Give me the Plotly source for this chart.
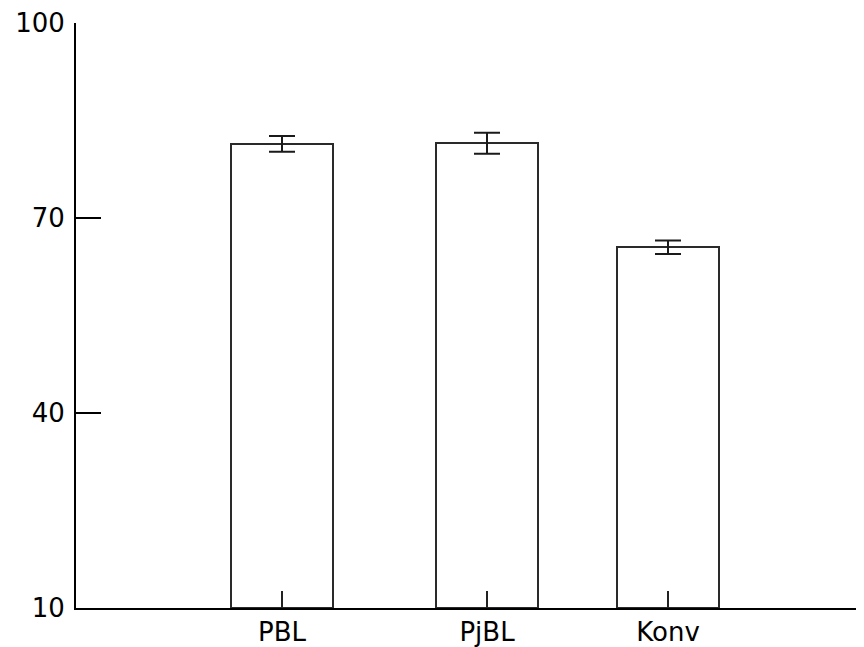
import plotly.graph_objects as go

categories = ["PBL", "PjBL", "Konv"]
values = [81.4, 81.5, 65.5]
errors = [1.2, 1.6, 1.05]
y_ticks = [10, 40, 70, 100]

# layout: horizontal positions of bars (pixel-like units along x axis)
x_pos = [206, 411, 592]
bar_width = 102

fig = go.Figure()
fig.add_trace(go.Bar(
    x=x_pos,
    y=[v - 10 for v in values],
    base=10,
    width=bar_width,
    marker=dict(color="white", line=dict(color="#2a2a2a", width=2)),
    error_y=dict(type="data", array=errors, color="#1a1a1a", thickness=2, width=13),
    showlegend=False,
))

fig.update_layout(
    width=856, height=639,
    margin=dict(l=68, r=0, t=15, b=39),
    plot_bgcolor="white", paper_bgcolor="white",
    font=dict(family="DejaVu Sans, Arial, sans-serif", size=26, color="black"),
    bargap=0,
)
fig.update_xaxes(
    range=[0, 788], tickmode="array", tickvals=x_pos, ticktext=categories,
    showline=True, linecolor="black", linewidth=2,
    ticks="inside", ticklen=17, tickwidth=2, tickcolor="#222222",
    showgrid=False, zeroline=False, fixedrange=True,
    ticklabeloverflow="allow",
)
fig.update_yaxes(
    range=[10, 100], tickmode="array", tickvals=y_ticks,
    showline=True, linecolor="black", linewidth=2,
    ticks="inside", ticklen=25, tickwidth=2, tickcolor="black",
    showgrid=False, zeroline=False, ticklabelstandoff=4,
    ticklabeloverflow="allow",
)

fig.write_html("out.html")
